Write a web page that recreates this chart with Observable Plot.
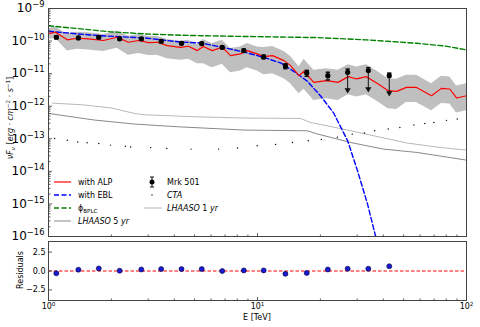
<!DOCTYPE html>
<html><head><meta charset="utf-8">
<script src="https://cdn.jsdelivr.net/npm/d3@7"></script>
<script src="https://cdn.jsdelivr.net/npm/@observablehq/plot@0.6"></script>
<style>
html,body{margin:0;padding:0;background:#fff;}
#wrap{position:relative;width:480px;height:327px;overflow:hidden;font-family:"DejaVu Sans";}
#wrap svg{position:absolute;left:0;overflow:visible;}
</style></head><body><div id="wrap"></div>
<script>
// ---------- data ----------
// with ALP model curve and its uncertainty band
const alpE = [1.00,1.08,1.23,1.37,1.55,1.83,2.13,2.41,2.70,3.01,3.31,3.70,4.28,4.68,5.15,5.51,6.07,6.78,7.43,8.29,8.93,9.97,10.7,11.8,13.4,14.4,15.8,16.7,18.6,21.4,24.3,27.2,29.8,33.2,37.8,42.2,46.3,51.6,57.7,68.0,75.9,83.2,89.6,100];
const alpF = [1.70e-10,1.87e-10,1.09e-10,1.22e-10,1.17e-10,1.04e-10,1.31e-10,9.18e-11,1.04e-10,9.0e-11,9.18e-11,7.28e-11,6.44e-11,6.92e-11,5.1e-11,6.78e-11,5.1e-11,6.44e-11,3.58e-11,4.04e-11,5.1e-11,4.04e-11,3.33e-11,3.58e-11,2.51e-11,1.76e-11,8.68e-12,1.18e-11,5.40e-12,6.10e-12,5.40e-12,8.09e-12,6.87e-12,8.09e-12,4.82e-12,3.0e-12,2.85e-12,3.78e-12,3.78e-12,2.10e-12,3.53e-12,3.38e-12,1.79e-12,2.10e-12];
const bandHi = [2.42e-10,2.66e-10,1.66e-10,1.87e-10,1.79e-10,1.585e-10,2.00e-10,1.41e-10,1.585e-10,1.38e-10,1.41e-10,1.11e-10,9.86e-11,1.06e-10,7.80e-11,1.11e-10,8.38e-11,1.06e-10,5.88e-11,6.63e-11,8.38e-11,6.63e-11,6.31e-11,6.77e-11,4.75e-11,3.34e-11,1.64e-11,2.75e-11,1.26e-11,1.42e-11,1.26e-11,1.89e-11,1.61e-11,1.89e-11,1.13e-11,7.02e-12,6.68e-12,8.87e-12,8.87e-12,4.92e-12,8.26e-12,7.91e-12,4.18e-12,4.92e-12];
const bandLo = [1.11e-10,1.22e-10,4.99e-11,5.59e-11,5.36e-11,4.75e-11,6.00e-11,3.66e-11,4.12e-11,3.58e-11,3.66e-11,2.89e-11,2.57e-11,2.75e-11,2.03e-11,2.03e-11,1.53e-11,1.93e-11,1.07e-11,1.21e-11,1.53e-11,1.21e-11,9.32e-12,1.0e-11,7.02e-12,4.92e-12,2.42e-12,3.29e-12,1.51e-12,1.70e-12,1.51e-12,2.26e-12,1.92e-12,2.26e-12,1.35e-12,8.38e-13,7.97e-13,1.31e-12,1.31e-12,7.27e-13,1.22e-12,1.17e-12,6.18e-13,7.27e-13];

// with EBL curve
const eblE = [1.00,1.38,1.77,2.88,4.28,5.34,6.80,8.57,10.7,12.9,14.9,17.3,20.0,23.1,27.0,30.1,33.6,36.7,37.9];
const eblF = [2.00e-10,1.66e-10,1.46e-10,1.25e-10,9.32e-11,8.80e-11,6.44e-11,4.65e-11,3.17e-11,2.13e-11,1.18e-11,5.88e-12,2.10e-12,6.31e-13,8.68e-14,1.04e-14,1.0e-15,1.04e-16,3.58e-17];

// phi_BPLC intrinsic curve
const bplcE = [1.00,1.38,1.98,2.88,4.33,7.19,11.5,19.2,33.2,57.7,79.4,100];
const bplcF = [2.94e-10,2.42e-10,1.92e-10,1.66e-10,1.51e-10,1.41e-10,1.35e-10,1.28e-10,1.09e-10,8.56e-11,7.02e-11,5.36e-11];

// LHAASO sensitivities
const lh1E = [1.045,1.49,2.0,2.58,2.88,4.99,8.67,16.1,17.9,24.9,35.9,52.2,75.1,100];
const lh1F = [1.25e-12,1.09e-12,8.80e-13,6.00e-13,5.48e-13,4.75e-13,4.33e-13,4.21e-13,3.17e-13,2.07e-13,1.24e-13,7.37e-14,5.40e-14,4.49e-14];
const lh5E = [1.0,1.66,2.58,4.14,8.67,17.3,19.4,27.9,40.1,58.3,100];
const lh5F = [6.00e-13,3.76e-13,2.83e-13,2.34e-13,1.85e-13,1.76e-13,1.40e-13,7.69e-14,4.82e-14,3.79e-14,2.21e-14];

// CTA sensitivity points
const ctaE = [1.07,1.23,1.38,1.53,1.74,1.98,2.33,2.47,3.08,3.68,4.81,6.52,8.02,9.97,12.2,14.7,17.5,20.2,24.1,28.4,32.5,36.4,42.2,48.0,56.0,63.2,69.8,80.2,90.3];
const ctaF = [1.02e-13,8.99e-14,7.97e-14,7.53e-14,7.17e-14,6.40e-14,5.88e-14,5.59e-14,5.36e-14,5.03e-14,4.82e-14,4.82e-14,5.21e-14,6.09e-14,6.73e-14,7.69e-14,8.68e-14,9.58e-14,1.12e-13,1.39e-13,1.50e-13,1.76e-13,1.99e-13,2.23e-13,2.64e-13,2.96e-13,3.17e-13,3.68e-13,4.04e-13];

// Mrk 501 data points
const dataE  = [1.09,1.39,1.74,2.19,2.78,3.46,4.33,5.41,6.78,8.60,10.7,13.6,17.2,21.7,27.0,33.9,42.7];
const dataF  = [1.31e-10,1.25e-10,1.31e-10,1.17e-10,1.17e-10,9.87e-11,8.55e-11,8.37e-11,6.44e-11,5.1e-11,3.27e-11,1.73e-11,1.05e-11,8.68e-12,1.1e-11,1.24e-11,8.68e-12];
const dataHi = [1.45e-10,1.37e-10,1.44e-10,1.28e-10,1.28e-10,1.08e-10,9.4e-11,9.2e-11,7.1e-11,5.7e-11,3.7e-11,1.99e-11,1.26e-11,1.10e-11,1.38e-11,1.53e-11,1.04e-11];
const dataLo = [1.18e-10,1.13e-10,1.19e-10,1.06e-10,1.06e-10,9.0e-11,7.8e-11,7.6e-11,5.8e-11,4.6e-11,2.9e-11,1.42e-11,8.26e-12,6.40e-12,3.15e-12,3.38e-12,2.55e-12];
const dataLim = [0,0,0,0,0,0,0,0,0,0,0,0,0,0,1,1,1];
const resid  = [-0.30,0.17,0.34,0.04,0.20,0.25,0.25,0.25,0.0,0.08,0.08,-0.38,-0.25,0.20,0.30,0.30,0.63];

// ticks
const xMajor = [1,10,100];
const xMinor = [2,3,4,5,6,7,8,9,20,30,40,50,60,70,80,90];
const yMajor = [1e-16,1e-15,1e-14,1e-13,1e-12,1e-11,1e-10,1e-9];
const yMinor = [];
for (let e=-16;e<-9;e++) for (let k=2;k<=9;k++) yMinor.push(k*Math.pow(10,e));
const resTicks = [-2.5,0,2.5];

// ---------- build ----------
const font = "DejaVu Sans";
const zip = (E,F) => E.map((e,i)=>({E:e, F:F[i]}));
const alp = zip(alpE, alpF);
const band = alpE.map((e,i)=>({E:e, lo:bandLo[i], hi:bandHi[i]}));
const ebl = zip(eblE, eblF), bplc = zip(bplcE, bplcF);
const lh1 = zip(lh1E, lh1F), lh5 = zip(lh5E, lh5F), cta = zip(ctaE, ctaF);
const pts = dataE.map((e,i)=>({E:e, F:dataF[i], hi:dataHi[i], lo:dataLo[i], lim:dataLim[i], R:resid[i]}));

const capSym = {draw(c){c.moveTo(-2.2,0);c.lineTo(2.2,0);}};
const vUp = L => ({draw(c){c.moveTo(0,0);c.lineTo(0,-L);}});
const hRight = L => ({draw(c){c.moveTo(0,0);c.lineTo(L,0);}});
const tk = {stroke:"#333", strokeWidth:0.8, fill:"none"};
const supFmt = d => "10^" + Math.round(Math.log10(d));

const topPlot = Plot.plot({
  width:480, height:238, marginLeft:48, marginRight:14, marginTop:8, marginBottom:2,
  style:{fontFamily:font, background:"transparent", overflow:"visible"},
  x:{type:"log", domain:[1,100], axis:null},
  y:{type:"log", domain:[1e-16,1e-9], axis:null},
  marks:[
    Plot.areaY(band, {x:"E", y1:"lo", y2:"hi", fill:"#bfbfbf"}),
    Plot.line(lh1, {x:"E", y:"F", stroke:"#999999", strokeWidth:0.7}),
    Plot.line(lh5, {x:"E", y:"F", stroke:"#555555", strokeWidth:0.7}),
    Plot.dot(cta, {x:"E", y:"F", r:0.7, fill:"black", stroke:null}),
    Plot.line(bplc, {x:"E", y:"F", stroke:"#008000", strokeWidth:1.4, strokeDasharray:"5,2.5"}),
    Plot.line(ebl, {x:"E", y:"F", stroke:"#0000ff", strokeWidth:1.4, strokeDasharray:"5,2.5", clip:true}),
    Plot.line(alp, {x:"E", y:"F", stroke:"#ff0000", strokeWidth:1.2}),
    Plot.ruleX(pts, {x:"E", y1:"lo", y2:"hi", stroke:"#111", strokeWidth:1}),
    Plot.dot(pts.filter(d=>!d.lim), {x:"E", y:"lo", symbol:capSym, stroke:"#111", fill:"none"}),
    Plot.dot(pts, {x:"E", y:"hi", symbol:capSym, stroke:"#111", fill:"none"}),
    Plot.dot(pts.filter(d=>d.lim), {x:"E", y:"lo", symbol:"triangle", rotate:180, r:2.3, fill:"#111", stroke:null}),
    Plot.dot(pts, {x:"E", y:"F", r:2.6, fill:"black", stroke:null}),
    Plot.dot(xMinor, {x:d=>d, frameAnchor:"bottom", symbol:vUp(2), ...tk}),
    Plot.dot(xMajor, {x:d=>d, frameAnchor:"bottom", symbol:vUp(3.5), ...tk}),
    Plot.dot(yMinor, {y:d=>d, frameAnchor:"left", symbol:hRight(2), ...tk}),
    Plot.dot(yMajor, {y:d=>d, frameAnchor:"left", symbol:hRight(3.5), ...tk}),
    Plot.axisY({ticks:yMajor, tickSize:0, tickPadding:4, fontSize:12, tickFormat:supFmt, label:null}),
    Plot.frame({stroke:"#444"})
  ]
});

const botPlot = Plot.plot({
  width:480, height:89, marginLeft:48, marginRight:14, marginTop:3, marginBottom:27,
  style:{fontFamily:font, background:"transparent", overflow:"visible"},
  x:{type:"log", domain:[1,100], axis:null},
  y:{domain:[-3.9,3.9], axis:null},
  marks:[
    Plot.ruleY([0], {stroke:"#ff0000", strokeWidth:1, strokeDasharray:"3.5,2"}),
    Plot.dot(pts, {x:"E", y:"R", r:2.5, fill:"#1a1ad0", stroke:"#000040", strokeWidth:0.6}),
    Plot.dot(xMinor, {x:d=>d, frameAnchor:"bottom", symbol:vUp(2), ...tk}),
    Plot.dot(xMajor, {x:d=>d, frameAnchor:"bottom", symbol:vUp(3.5), ...tk}),
    Plot.dot(resTicks, {y:d=>d, frameAnchor:"left", symbol:hRight(3.5), ...tk}),
    Plot.axisX({ticks:xMajor, tickSize:0, tickPadding:3, fontSize:8, tickFormat:supFmt, label:null}),
    Plot.axisY({ticks:resTicks, tickSize:0, tickPadding:3, fontSize:8, tickFormat:d=>d.toFixed(1).replace("-","\u2212"), label:null}),
    Plot.frame({stroke:"#444"})
  ]
});

const ns = "http://www.w3.org/2000/svg";
function supify(svg, sel, supSize, raise){
  svg.querySelectorAll(sel + " text").forEach(t=>{
    const m = t.textContent.match(/^10\^(.+)$/);
    if(!m) return;
    t.textContent = "";
    const a = document.createElementNS(ns,"tspan"); a.textContent = "10";
    const b = document.createElementNS(ns,"tspan"); b.textContent = m[1].replace("-","\u2212");
    b.setAttribute("font-size", supSize); b.setAttribute("dy", -raise);
    t.append(a,b);
  });
}
supify(topPlot, '[aria-label="y-axis tick label"]', 8.4, 5);
supify(botPlot, '[aria-label="x-axis tick label"]', 5.6, 3.5);

const wrap = document.getElementById("wrap");
topPlot.style.top = "0px";
botPlot.style.top = "238px";
wrap.append(topPlot, botPlot);

// ---------- overlay: axis titles and legend ----------
const ov = d3.create("svg").attr("width",480).attr("height",327)
  .style("position","absolute").style("top","0px").style("left","0px")
  .attr("font-family", font);
function rich(sel, parts){
  let cur = 0;
  for(const p of parts){
    const ts = sel.append("tspan").text(p.t);
    const s = p.s || 0;
    if(s !== cur){ ts.attr("dy", -(s-cur)); cur = s; }
    if(p.fs) ts.attr("font-size", p.fs);
    ts.attr("font-style", p.i ? "italic" : "normal");
  }
}
rich(ov.append("text").attr("transform","translate(13,118) rotate(-90)").attr("text-anchor","middle").attr("font-size",8).attr("fill","#222"),
  [{t:"\u03bdF",i:1},{t:"\u03bd",fs:5.6,s:-1.8,i:1},{t:" [",s:0},{t:"erg \u00b7 cm",i:1},{t:"\u22122",fs:5.6,s:3},{t:" \u00b7 s",s:0,i:1},{t:"\u22121",fs:5.6,s:3},{t:"]",s:0}]);
ov.append("text").attr("transform","translate(23,270) rotate(-90)").attr("text-anchor","middle").attr("font-size",8).text("Residuals");
ov.append("text").attr("x",257).attr("y",320).attr("text-anchor","middle").attr("font-size",8).text("E [TeV]");

const lg = ov.append("g").attr("font-size",8);
const rows = [182, 195, 208, 221];
lg.append("line").attr("x1",54).attr("x2",71).attr("y1",rows[0]).attr("y2",rows[0]).attr("stroke","#ff0000").attr("stroke-width",1.2);
lg.append("line").attr("x1",54).attr("x2",71).attr("y1",rows[1]).attr("y2",rows[1]).attr("stroke","#0000ff").attr("stroke-width",1.4).attr("stroke-dasharray","5,2.5");
lg.append("line").attr("x1",54).attr("x2",71).attr("y1",rows[2]).attr("y2",rows[2]).attr("stroke","#008000").attr("stroke-width",1.4).attr("stroke-dasharray","5,2.5");
lg.append("line").attr("x1",54).attr("x2",71).attr("y1",rows[3]).attr("y2",rows[3]).attr("stroke","#555555").attr("stroke-width",0.7);
const lt = (x,y) => lg.append("text").attr("x",x).attr("y",y).attr("dy","0.35em");
rich(lt(78,rows[0]), [{t:"with ALP"}]);
rich(lt(78,rows[1]), [{t:"with EBL"}]);
rich(lt(78,rows[2]), [{t:"\u03d5"},{t:"BPLC",fs:5.6,s:-1.8}]);
rich(lt(78,rows[3]), [{t:"LHAASO",i:1},{t:" 5 "},{t:"yr",i:1}]);
// column 2
lg.append("line").attr("x1",152).attr("x2",152).attr("y1",rows[0]-5).attr("y2",rows[0]+5).attr("stroke","#111");
lg.append("line").attr("x1",150).attr("x2",154).attr("y1",rows[0]-5).attr("y2",rows[0]-5).attr("stroke","#111");
lg.append("line").attr("x1",150).attr("x2",154).attr("y1",rows[0]+5).attr("y2",rows[0]+5).attr("stroke","#111");
lg.append("circle").attr("cx",152).attr("cy",rows[0]).attr("r",2.5).attr("fill","black");
lg.append("circle").attr("cx",152).attr("cy",rows[1]).attr("r",0.7).attr("fill","black");
lg.append("line").attr("x1",144).attr("x2",162).attr("y1",rows[2]).attr("y2",rows[2]).attr("stroke","#999999").attr("stroke-width",0.7);
rich(lt(167,rows[0]), [{t:"Mrk 501"}]);
rich(lt(167,rows[1]), [{t:"CTA",i:1}]);
rich(lt(167,rows[2]), [{t:"LHAASO",i:1},{t:" 1 "},{t:"yr",i:1}]);
wrap.append(ov.node());
</script></body></html>
